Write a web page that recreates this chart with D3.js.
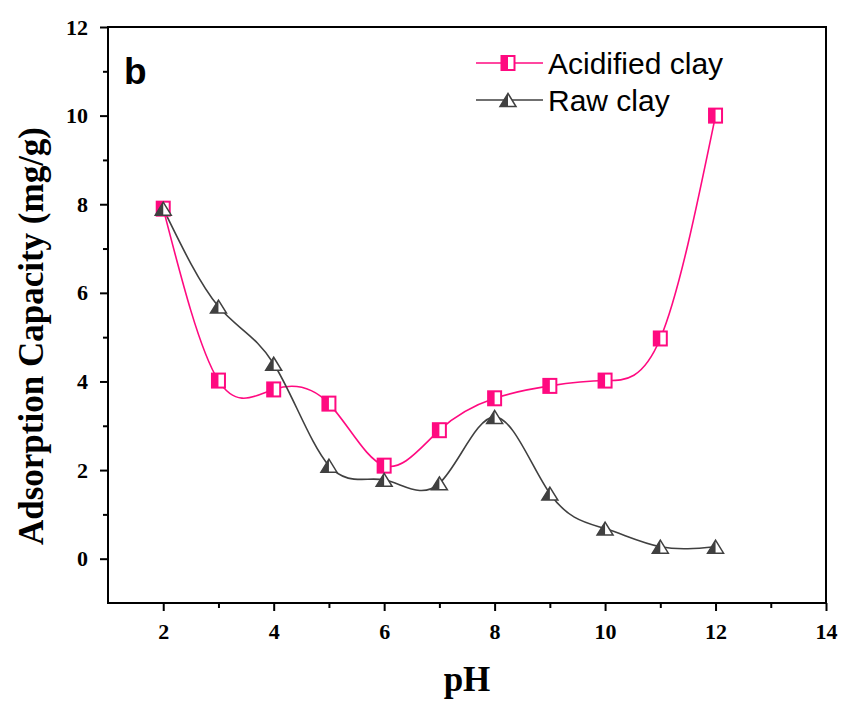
<!DOCTYPE html>
<html><head><meta charset="utf-8">
<script src="https://cdn.jsdelivr.net/npm/d3@7"></script>
<style>body{margin:0;background:#fff}</style>
</head><body>
<svg id="c" width="842" height="702"></svg>
<script>
const pH = [2,3,4,5,6,7,8,9,10,11,12];
const acidified = [7.9,4.02,3.82,3.5,2.1,2.9,3.62,3.9,4.02,4.97,10.0];
const raw = [7.9,5.69,4.4,2.1,1.78,1.7,3.2,1.47,0.68,0.27,0.27];
const xTicks = [2,4,6,8,10,12,14];
const yTicks = [0,2,4,6,8,10,12];
const seriesNames = ["Acidified clay","Raw clay"];
const colors = ["#ff0a80","#404040"];

const svg = d3.select("#c");
const L=108,R=826,T=27,B=603;
const x = d3.scaleLinear().domain([1,14]).range([L,R]);
const y = d3.scaleLinear().domain([-1,12]).range([B,T]);

svg.append("rect").attr("x",L).attr("y",T).attr("width",R-L).attr("height",B-T)
  .attr("fill","none").attr("stroke","#000").attr("stroke-width",2);

const tickFont = "'Liberation Serif','Times New Roman',serif";
const xAxis = d3.axisBottom(x).tickValues(xTicks).tickSize(8).tickPadding(12).tickFormat(d3.format("d"));
svg.append("g").attr("class","ax").attr("transform",`translate(0,${B})`).call(xAxis);
const xMinor = d3.axisBottom(x).tickValues([3,5,7,9,11,13]).tickSize(5).tickFormat("");
svg.append("g").attr("transform",`translate(0,${B})`).call(xMinor);
const yAxis = d3.axisLeft(y).tickValues(yTicks).tickSize(8).tickPadding(12).tickFormat(d3.format("d"));
svg.append("g").attr("class","ax").attr("transform",`translate(${L},0)`).call(yAxis);
const yMinor = d3.axisLeft(y).tickValues([1,3,5,7,9,11]).tickSize(5).tickFormat("");
svg.append("g").attr("transform",`translate(${L},0)`).call(yMinor);
svg.selectAll(".domain").remove();
svg.selectAll(".tick line").attr("stroke","#000").attr("stroke-width",2);
svg.selectAll(".ax").attr("font-size",null).attr("font-family",null);
svg.selectAll(".ax .tick text").style("font-family",tickFont).style("font-weight","bold")
  .style("font-size","22px").attr("fill","#000");

svg.append("text").attr("x",467).attr("y",691).attr("text-anchor","middle")
  .style("font-family",tickFont).style("font-weight","bold").style("font-size","35px").text("pH");
svg.append("text").attr("transform",`translate(43,336) rotate(-90)`).attr("text-anchor","middle")
  .style("font-family",tickFont).style("font-weight","bold").style("font-size","35px").text("Adsorption Capacity (mg/g)");
svg.append("text").attr("x",124).attr("y",84).style("font-family","'Liberation Sans',Arial,sans-serif")
  .style("font-weight","bold").style("font-size","37px").text("b");

const line = d3.line().x(d=>x(d[0])).y(d=>y(d[1])).curve(d3.curveNatural);
const data = [acidified, raw].map(arr=>pH.map((p,i)=>[p,arr[i]]));

function square(g,cx,cy,col){
  const w=13,h=14;
  g.append("rect").attr("x",cx-w/2).attr("y",cy-h/2).attr("width",w).attr("height",h).attr("fill","#fff").attr("stroke",col).attr("stroke-width",2);
  g.append("rect").attr("x",cx-w/2).attr("y",cy-h/2).attr("width",w/2).attr("height",h).attr("fill",col);
}
function tri(g,cx,cy,col){
  const w=16,h=13;
  g.append("path").attr("d",`M${cx},${cy-h/2}L${cx+w/2},${cy+h/2}L${cx-w/2},${cy+h/2}Z`).attr("fill","#fff").attr("stroke",col).attr("stroke-width",1.5);
  g.append("path").attr("d",`M${cx},${cy-h/2}L${cx},${cy+h/2}L${cx-w/2},${cy+h/2}Z`).attr("fill",col);
}
const markers=[square,tri];

[0,1].forEach(s=>{
  svg.append("path").datum(data[s]).attr("d",line).attr("fill","none").attr("stroke",colors[s]).attr("stroke-width",1.6);
});
[0,1].forEach(s=>{
  const g=svg.append("g");
  data[s].forEach(d=>markers[s](g,x(d[0]),y(d[1]),colors[s]));
});

const lg = svg.append("g");
seriesNames.forEach((n,i)=>{
  const ly = 63 + i*37;
  lg.append("line").attr("x1",476).attr("x2",543).attr("y1",ly).attr("y2",ly).attr("stroke",colors[i]).attr("stroke-width",1.6);
  markers[i](lg,508,ly,colors[i]);
  lg.append("text").attr("x",548).attr("y",ly+11).style("font-family","'Liberation Sans',Arial,sans-serif")
    .style("font-size","30px").attr("fill","#000").text(n);
});
</script>
</body></html>
